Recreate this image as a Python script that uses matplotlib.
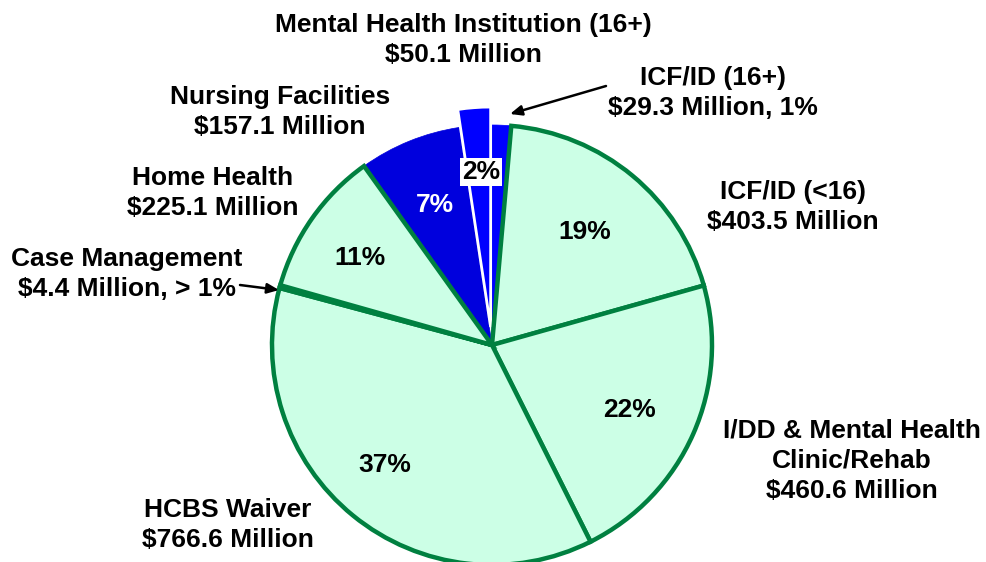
import matplotlib
matplotlib.use("Agg")
import matplotlib.pyplot as plt

categories = ["ICF/ID (16+)", "ICF/ID (<16)", "I/DD & Mental Health Clinic/Rehab",
              "HCBS Waiver", "Case Management", "Home Health",
              "Nursing Facilities", "Mental Health Institution (16+)"]
values = [29.3, 403.5, 460.6, 766.6, 4.4, 225.1, 157.1, 50.1]
pct_labels = ["", "19%", "22%", "37%", "", "11%", "7%", "2%"]
outer_labels = ["ICF/ID (16+)\n$29.3 Million, 1%",
                "ICF/ID (<16)\n$403.5 Million",
                "I/DD & Mental Health\nClinic/Rehab\n$460.6 Million",
                "HCBS Waiver\n$766.6 Million",
                "Case Management\n$4.4 Million, > 1%",
                "Home Health\n$225.1 Million",
                "Nursing Facilities\n$157.1 Million",
                "Mental Health Institution (16+)\n$50.1 Million"]

plt.rcParams['font.family'] = ['Liberation Sans', 'DejaVu Sans']

W, H = 987, 562
fig = plt.figure(figsize=(W/100, H/100), dpi=100)
ax = fig.add_axes([0, 0, 1, 1])

light = "#CCFFE6"
dark_edge = "#008040"
blue = "#0000FF"
colors = [blue, light, light, light, light, light, "#0000DD", blue]
explode = [0, 0, 0, 0, 0, 0, 0, 18]

cx, cy, R = 492, H - 345, 220
wedges, _ = ax.pie(values, colors=colors, startangle=90, counterclock=False,
                   explode=explode, center=(cx, cy), radius=R, frame=True,
                   wedgeprops=dict(linewidth=0))
for i, (w, c) in enumerate(zip(wedges, colors)):
    if c == light:
        w.set_edgecolor(dark_edge)
        w.set_linewidth(3.2)
        w.set_joinstyle('miter')
        w.set_zorder(1)
    else:
        w.set_zorder(0.5)
        if i == 7:
            w.set_edgecolor('white')
            w.set_linewidth(2.0)
        else:
            w.set_edgecolor(c)
            w.set_linewidth(0.5)
ax.set_xlim(0, W)
ax.set_ylim(0, H)
ax.set_aspect('equal')
ax.axis('off')

fs = 19
pct_pos = [None, (585, 232), (630, 410), (385, 465), None, (360, 258), (435, 205), (481, 172)]
for lab, pos, c in zip(pct_labels, pct_pos, colors):
    if not lab:
        continue
    kw = {}
    col = 'black'
    if lab == "7%":
        col = 'white'
    if lab == "2%":
        kw['bbox'] = dict(boxstyle='square,pad=0.08', fc='white', ec='none')
    ax.text(pos[0], H - pos[1], lab, ha='center', va='center', fontsize=fs,
            fontweight='bold', color=col, zorder=5, **kw)

label_pos = [(713, 93), (793, 207), (852, 461), (228, 525), (127, 274),
             (213, 193), (280, 112), (463, 40)]
for lab, pos in zip(outer_labels, label_pos):
    ax.text(pos[0], H - pos[1], lab, ha='center', va='center', fontsize=fs,
            fontweight='bold', color='black', linespacing=1.32)

ax.annotate("", xy=(510, H - 114), xytext=(606, H - 86),
            arrowprops=dict(arrowstyle='-|>,head_length=0.7,head_width=0.3',
                            color='black', lw=1.8, shrinkA=0, shrinkB=0))
ax.annotate("", xy=(279, H - 290), xytext=(240, H - 285),
            arrowprops=dict(arrowstyle='-|>,head_length=0.7,head_width=0.3',
                            color='black', lw=1.8, shrinkA=0, shrinkB=0))

fig.savefig("out.png", dpi=100)
